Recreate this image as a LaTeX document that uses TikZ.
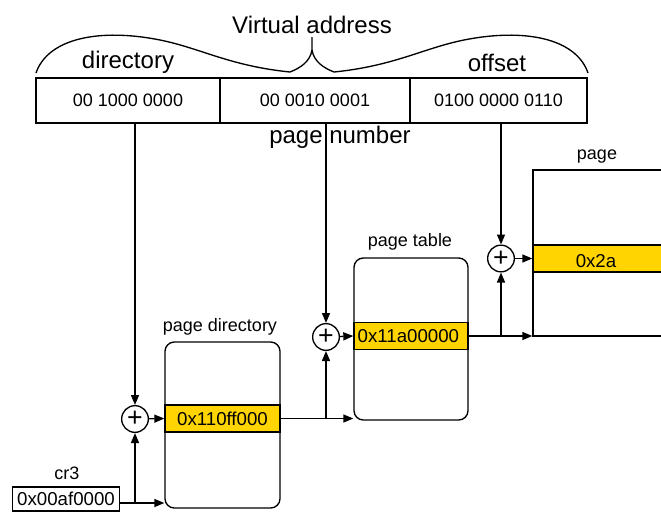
\documentclass[tikz,border=0pt]{standalone}
\usepackage{fontspec}
\setmainfont{Liberation Sans}
\usetikzlibrary{arrows.meta}
\definecolor{bandyellow}{RGB}{255,212,0}
\begin{document}
\begin{tikzpicture}[x=0.75pt,y=-0.75pt, line width=1pt,
  >={Triangle[length=7.5pt,width=6pt]},
  big/.style={font=\fontsize{18}{20}\selectfont, inner sep=0},
  small/.style={font=\fontsize{13.5}{15}\selectfont, inner sep=0},
  cell/.style={draw, minimum height=33.75pt, inner sep=0, font=\fontsize{13.5}{15}\selectfont},
  table/.style={draw, rounded corners=7pt, inner sep=0},
  band/.style={draw, fill=bandyellow, minimum height=20.25pt, inner sep=0, font=\fontsize{14}{15}\selectfont},
  adder/.style={circle, draw, fill=white, minimum size=20pt, inner sep=0, font=\fontsize{20}{20}\selectfont}]
\useasboundingbox (0,0) rectangle (661,511);

% title and brace
\node[big] (title) at (312,24.5) {Virtual address};
\draw (36,73) .. controls (48,38) and (100,28) .. (160,40)
      .. controls (200,48) and (230,66) .. (290,72)
      .. controls (300,68) and (310,62) .. (312,50) -- (312,37);
\draw (312,50) .. controls (314,62) and (324,68) .. (334,72)
      .. controls (394,66) and (424,48) .. (464,40)
      .. controls (524,28) and (576,38) .. (588,73);
\node[big] (ldir) at (128,62.5) {directory};
\node[big] (loff) at (497,62.5) {offset};

% address cells
\node[cell, minimum width=138pt] (c1) at (128,100.5) {00 1000 0000};
\node[cell, minimum width=142.5pt] (c2) at (315,100.5) {00 0010 0001};
\node[cell, minimum width=132.75pt] (c3) at (498.5,100.5) {0100 0000 0110};
\node[big] (lpn) at (340,137) {page number};

% adders
\node[adder] (p1) at (135,419) {+};
\node[adder] (p2) at (326,337) {+};
\node[adder] (p3) at (501,258.5) {+};

% page directory
\node[table, minimum width=86.25pt, minimum height=124.5pt] (pd) at (222.5,425) {};
\node[band, minimum width=86.25pt] (pdb) at (222.5,418.5) {0x110ff000};
\node[small] (lpd) at (220,327) {page directory};

% page table
\node[table, minimum width=85.5pt, minimum height=121.5pt] (pt) at (411,339) {};
\node[band, minimum width=85.5pt, text width=80pt, align=left] (ptb) at (411,336) {0x11a00000};
\node[small] (lpt) at (410,242) {page table};

% page (cut at the right edge)
\node[draw, minimum width=105pt, minimum height=124.5pt, inner sep=0] (pg) at (603,253) {};
\node[band, minimum width=105pt] (pgb) at (603,258.5) {};
\node[small, font=\fontsize{14}{15}\selectfont] (pgt) at (596,261) {0x2a};
\node[small] (lpg) at (597,157) {page};

% cr3
\node[draw, minimum width=80pt, minimum height=18pt, inner sep=0,
      font=\fontsize{14}{15}\selectfont] (cr3) at (66,499) {0x00af0000};
\node[small] (lcr3) at (67,473) {cr3};

% connectors
\coordinate (j0) at (135,503);
\draw[->] (p1 |- c1.south) -- (p1);
\draw[->] (p2 |- c2.south) -- (p2);
\draw[->] (p3 |- c3.south) -- (p3);
\draw[->] (cr3.east |- j0) -- (pd.west |- j0);
\draw[->] (j0) -- (p1);
\draw[->] (p1) -- (pdb.west);
\draw[->] (pdb.east) -- (pdb.east -| pt.west);
\draw[->] (p2 |- pdb.east) -- (p2);
\draw[->] (p2) -- (ptb.west);
\draw[->] (ptb.east) -- (ptb.east -| pg.west);
\draw[->] (p3 |- ptb.east) -- (p3);
\draw[->] (p3) -- (pgb.west);
\end{tikzpicture}
\end{document}
